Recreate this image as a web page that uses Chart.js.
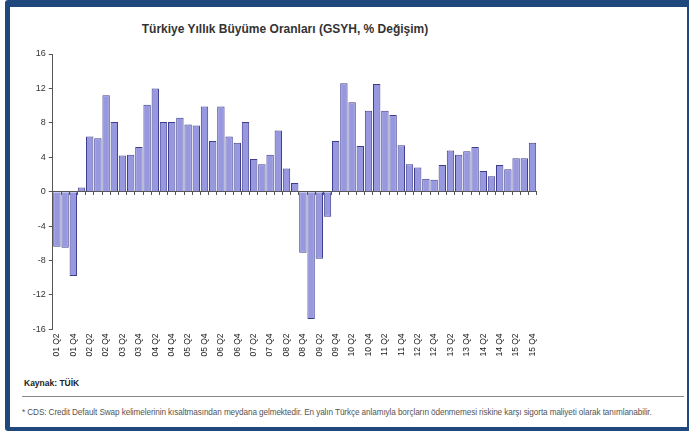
<!DOCTYPE html>
<html>
<head>
<meta charset="utf-8">
<script src="https://cdn.jsdelivr.net/npm/chart.js@4.4.1/dist/chart.umd.min.js"></script>
<style>
  html, body { margin: 0; padding: 0; background: #ffffff; }
  body { width: 689px; height: 431px; position: relative; overflow: hidden; font-family: "Liberation Sans", Arial, sans-serif; }
  #frame { position: absolute; left: 5px; top: 0px; width: 677px; height: 420px; border: 5px solid #1f497d; border-top-width: 7px; border-bottom-width: 4px; border-radius: 3px; }
  #title { position: absolute; left: 0; width: 570px; top: 22px; text-align: center; font-size: 12px; font-weight: bold; color: #333; }
  #chartbox { position: absolute; left: 0; top: 0; width: 689px; height: 375px; }
  #source { position: absolute; left: 24px; top: 378px; font-size: 8.5px; font-weight: bold; color: #222; }
  #rule { position: absolute; left: 22px; right: 5px; top: 396px; height: 0; border-top: 1px solid #888; }
  #note { position: absolute; left: 22px; top: 408px; font-size: 8.2px; color: #555; white-space: nowrap; letter-spacing: -0.1px; }
</style>
</head>
<body>
<div id="frame"></div>
<div id="title">Türkiye Yıllık Büyüme Oranları (GSYH, % Değişim)</div>
<div id="chartbox"><canvas id="c" width="689" height="375"></canvas></div>
<div id="source">Kaynak: TÜİK</div>
<div id="rule"></div>
<div id="note">* CDS: Credit Default Swap kelimelerinin kısaltmasından meydana gelmektedir. En yalın Türkçe anlamıyla borçların ödenmemesi riskine karşı sigorta maliyeti olarak tanımlanabilir.</div>
<script>
const quarters = [
  "01 Q2","01 Q3","01 Q4",
  "02 Q1","02 Q2","02 Q3","02 Q4",
  "03 Q1","03 Q2","03 Q3","03 Q4",
  "04 Q1","04 Q2","04 Q3","04 Q4",
  "05 Q1","05 Q2","05 Q3","05 Q4",
  "06 Q1","06 Q2","06 Q3","06 Q4",
  "07 Q1","07 Q2","07 Q3","07 Q4",
  "08 Q1","08 Q2","08 Q3","08 Q4",
  "09 Q1","09 Q2","09 Q3","09 Q4",
  "10 Q1","10 Q2","10 Q3","10 Q4",
  "11 Q1","11 Q2","11 Q3","11 Q4",
  "12 Q1","12 Q2","12 Q3","12 Q4",
  "13 Q1","13 Q2","13 Q3","13 Q4",
  "14 Q1","14 Q2","14 Q3","14 Q4",
  "15 Q1","15 Q2","15 Q3","15 Q4"
];
const growth = [
  -6.4, -6.5, -9.8,
  0.5, 6.4, 6.2, 11.2,
  8.1, 4.2, 4.3, 5.2,
  10.1, 12.0, 8.1, 8.1,
  8.6, 7.8, 7.7, 9.9,
  5.9, 9.9, 6.4, 5.7,
  8.1, 3.8, 3.2, 4.3,
  7.1, 2.7, 1.0, -7.1,
  -14.8, -7.8, -2.9, 5.9,
  12.6, 10.4, 5.3, 9.4,
  12.5, 9.4, 8.9, 5.4,
  3.2, 2.8, 1.5, 1.4,
  3.1, 4.8, 4.3, 4.7,
  5.2, 2.4, 1.8, 3.1,
  2.6, 3.9, 3.9, 5.7
];
const yTicks = [-16, -12, -8, -4, 0, 4, 8, 12, 16];

const axisColor = '#555555';
new Chart(document.getElementById('c'), {
  type: 'bar',
  data: {
    labels: quarters,
    datasets: [{
      data: growth,
      backgroundColor: '#9898e0',
      borderColor: '#3e3e8e',
      borderWidth: 1,
      barPercentage: 0.9,
      categoryPercentage: 1.0,
      xAxisID: 'x',
      yAxisID: 'y'
    }]
  },
  options: {
    responsive: false,
    animation: false,
    events: [],
    layout: { padding: { left: 0, top: 54, right: 152.4, bottom: 5.6 } },
    plugins: { legend: { display: false }, tooltip: { enabled: false }, title: { display: false } },
    scales: {
      x: {
        type: 'category',
        position: 'bottom',
        offset: true,
        grid: { display: false, drawTicks: false },
        border: { display: false },
        ticks: {
          autoSkip: false,
          minRotation: 90,
          maxRotation: 90,
          padding: 4,
          font: { family: 'Liberation Sans', size: 8.5 },
          color: '#222',
          callback: function(v, i) { return i % 2 === 0 ? quarters[i] : ''; }
        },
        afterFit: function(s) { s.height = 40; }
      },
      x2: {
        type: 'category',
        labels: quarters,
        position: { y: 0 },
        offset: true,
        grid: { drawOnChartArea: false, drawTicks: true, tickLength: 3, color: axisColor },
        border: { display: true, color: axisColor, width: 1 },
        ticks: { display: false }
      },
      y: {
        min: -16,
        max: 16,
        afterBuildTicks: function(s) { s.ticks = yTicks.map(v => ({ value: v })); },
        grid: { drawOnChartArea: false, drawTicks: true, tickLength: 4, color: axisColor },
        border: { display: true, color: axisColor, width: 1 },
        ticks: {
          padding: 3,
          font: { family: 'Liberation Sans', size: 9 },
          color: '#333'
        },
        afterFit: function(s) { s.width = 52.8; }
      }
    }
  }
});
</script>
</body>
</html>
